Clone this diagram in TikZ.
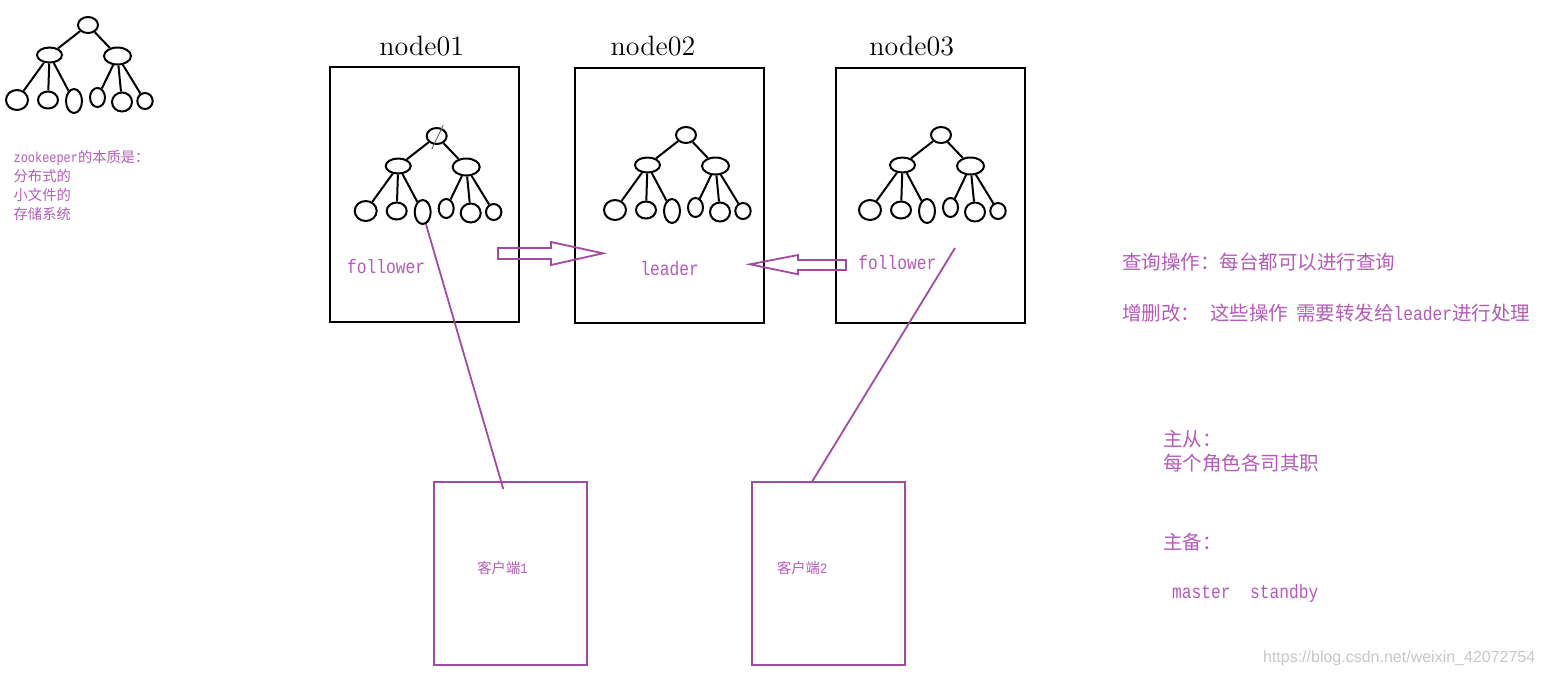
\documentclass[tikz,border=0pt]{standalone}
\usepackage{fontspec}
\usetikzlibrary{shapes.geometric,calc}
\newfontfamily\cjk{Noto Sans CJK SC}
\newfontfamily\latm[FakeStretch=0.833]{Liberation Mono}
\newfontfamily\wmfont{Liberation Sans}
\definecolor{pux}{HTML}{A349A4}
\definecolor{ptx}{HTML}{B45AB9}
\colorlet{wmx}{black!22}
\tikzset{
    knob/.style 2 args={draw,ellipse,line width=1pt,inner sep=0pt,minimum width=#1pt,minimum height=#2pt},
    srv/.style={draw,line width=1pt,inner sep=0pt,minimum width=94.5pt,minimum height=127.5pt},
    cli/.style={pux,draw,line width=0.9pt,inner sep=0pt,minimum width=76.5pt,minimum height=91.5pt},
    ttl/.style={inner sep=0pt,anchor=base,font=\fontsize{14}{16}\selectfont},
    latlbl/.style={ptx,inner sep=0pt,anchor=west,font=\fontsize{9.75}{12}\selectfont\latm},
    cjkbig/.style={ptx,inner sep=0pt,anchor=west,font=\fontsize{9.75}{12}\selectfont\cjk},
    cjksmall/.style={ptx,inner sep=0pt,anchor=west,font=\fontsize{7.15}{9.6}\selectfont\cjk},
    hollow/.style={pux,line width=0.9pt,line join=miter},
    zktree/.pic={
        \node [knob={10}{8}] (r) at (88,25) {};
        \node [knob={12.5}{7.5}] (a) at (49.5,55) {};
        \node [knob={13.5}{8.5}] (b) at (117.5,56) {};
        \node [knob={11}{10}] (l1) at (17,100) {};
        \node [knob={10}{8.5}] (l2) at (48,100) {};
        \node [knob={8}{12}] (l3) at (74,101) {};
        \node [knob={7.5}{9.5}] (l4) at (97.5,97.5) {};
        \node [knob={10}{9.5}] (l5) at (122,102) {};
        \node [knob={7.7}{8}] (l6) at (145,101) {};
        \draw [line width=1pt] (r) -- (a);
        \draw [line width=1pt] (r) -- (b);
        \foreach \c in {l1,l2,l3} {
            \draw [line width=1pt] (a) -- (\c);
        }
        \foreach \c in {l4,l5,l6} {
            \draw [line width=1pt] (b) -- (\c);
        }
    }
}

\begin{document}
\begin{tikzpicture}[x=0.5pt,y=-0.5pt]
    \useasboundingbox (0,0) rectangle (1543,676);

    \pic (t0) at (0,0) {zktree};
    \node [cjksmall,align=left] (memo) at (13.3,185.5)
        {{\latm zookeeper}的本质是：\\分布式的\\小文件的\\存储系统};

    \node [srv] (n1) at (424.5,194.5) {};
    \node [srv] (n2) at (669.5,195.5) {};
    \node [srv] (n3) at (930.5,195.5) {};
    \node [ttl] (n1t) at (421.7,55.5) {node01};
    \node [ttl] (n2t) at (653,55) {node02};
    \node [ttl] (n3t) at (911.7,55) {node03};

    \pic (t1) at (348.7,111) {zktree};
    \pic (t2) at (598,110) {zktree};
    \pic (t3) at (853,110) {zktree};
    \draw [black!65,line width=0.4pt] ($(t1r)+(6.6,-11)$) -- ($(t1r)+(-5,13.3)$);

    \node [latlbl] (f1) at (346.7,266.7) {follower};
    \node [latlbl] (ld) at (640,268.3) {leader};
    \node [latlbl] (f3) at (858,263) {follower};

    \draw [hollow] (498,248) -- (551,248) -- (551,242) -- (603,253.3)
        -- (551,265) -- (551,259) -- (498,259) -- cycle;
    \draw [hollow] (846,260) -- (798,260) -- (798,255) -- (750,264.3)
        -- (798,274.3) -- (798,270) -- (846,270) -- cycle;

    \node [cli] (c1) at (510.5,573.5) {};
    \node [cli] (c2) at (828.7,573.5) {};
    \node [cjksmall] (c1t) at (477,568.5) {客户端{\latm 1}};
    \node [cjksmall] (c2t) at (776.7,568.5) {客户端{\latm 2}};

    \coordinate (k1) at (503.3,489);
    \coordinate (k3) at (955,248);
    \coordinate (k4) at (811.7,482.3);
    \draw [pux,line width=0.9pt] (t1l3.-75) -- (k1);
    \draw [pux,line width=0.9pt] (k3) -- (k4);

    \node [cjkbig] (q1) at (1121.7,261.7) {查询操作：每台都可以进行查询};
    \node [cjkbig] (q2) at (1121.7,313.3)
        {增删改：\hspace{5pt}这些操作\hspace{4pt}需要转发给{\latm leader}进行处理};
    \node [cjkbig] (q3) at (1163,439) {主从：};
    \node [cjkbig] (q4) at (1163,463) {每个角色各司其职};
    \node [cjkbig] (q5) at (1163,541.7) {主备：};
    \node [latlbl] (q6) at (1171.7,593.3) {master\ \ standby};

    \node [wmx,inner sep=0pt,anchor=west,font=\fontsize{8}{10}\selectfont\wmfont] (wm)
        at (1262.7,658) {https://blog.csdn.net/weixin\_42072754};
\end{tikzpicture}
\end{document}
